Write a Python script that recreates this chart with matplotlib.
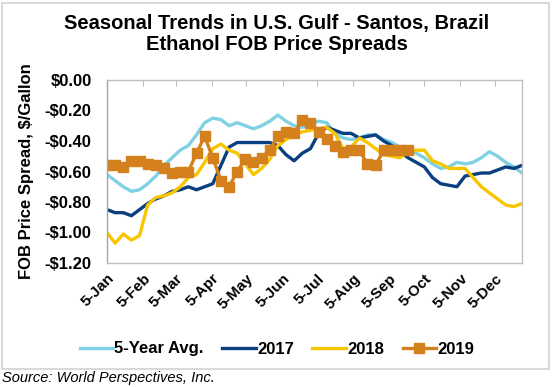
import datetime as dt

import matplotlib
matplotlib.use("Agg")
import matplotlib.dates as mdates
import matplotlib.pyplot as plt
from matplotlib.patches import Rectangle

plt.rcParams['font.family'] = ['Liberation Sans', 'DejaVu Sans']

# weekly observations starting 5-Jan
avg5 = [-0.62, -0.66, -0.70, -0.73, -0.72, -0.68, -0.63, -0.56, -0.51, -0.46,
        -0.43, -0.36, -0.28, -0.25, -0.26, -0.30, -0.28, -0.30, -0.32, -0.30,
        -0.27, -0.23, -0.27, -0.30, -0.31, -0.29, -0.27, -0.28, -0.35, -0.38,
        -0.39, -0.38, -0.36, -0.36, -0.39, -0.41, -0.44, -0.46, -0.48, -0.51,
        -0.55, -0.58, -0.57, -0.54, -0.55, -0.54, -0.51, -0.47, -0.50, -0.54,
        -0.57, -0.61]
y2017 = [-0.85, -0.87, -0.87, -0.89, -0.85, -0.81, -0.78, -0.76, -0.73, -0.72,
         -0.70, -0.72, -0.70, -0.68, -0.56, -0.44, -0.41, -0.41, -0.41, -0.41,
         -0.41, -0.43, -0.49, -0.53, -0.48, -0.45, -0.35, -0.31, -0.33, -0.35,
         -0.35, -0.38, -0.37, -0.36, -0.40, -0.43, -0.47, -0.51, -0.54, -0.57,
         -0.64, -0.68, -0.69, -0.70, -0.63, -0.62, -0.61, -0.61, -0.59, -0.57,
         -0.58, -0.56]
y2018 = [-1.00, -1.07, -1.01, -1.05, -1.02, -0.82, -0.77, -0.76, -0.74, -0.70,
         -0.64, -0.62, -0.54, -0.45, -0.42, -0.46, -0.48, -0.55, -0.62, -0.58,
         -0.52, -0.43, -0.39, -0.36, -0.34, -0.33, -0.32, -0.31, -0.35, -0.45,
         -0.44, -0.38, -0.41, -0.45, -0.49, -0.50, -0.51, -0.47, -0.46, -0.46,
         -0.53, -0.55, -0.58, -0.58, -0.58, -0.64, -0.70, -0.74, -0.78, -0.82,
         -0.83, -0.81]
y2019 = [-0.56, -0.56, -0.57, -0.53, -0.53, -0.55, -0.56, -0.58, -0.61, -0.60,
         -0.60, -0.48, -0.37, -0.51, -0.66, -0.70, -0.60, -0.52, -0.54, -0.51,
         -0.46, -0.37, -0.34, -0.35, -0.26, -0.28, -0.34, -0.39, -0.43, -0.47,
         -0.46, -0.46, -0.55, -0.56, -0.46, -0.46, -0.46, -0.46]

start = dt.date(2019, 1, 5)
weeks = [start + dt.timedelta(days=7 * i) for i in range(len(avg5))]
weeks19 = weeks[:len(y2019)]
month_ticks = [dt.date(2019, m, 5) for m in range(1, 13)]

fig = plt.figure(figsize=(5.54, 3.87), dpi=100)
ax = fig.add_axes([107 / 554, 1 - 263 / 387, 415 / 554, 183 / 387])

ax.plot(weeks, avg5, color='#7FD1E3', lw=2.4, label='5-Year Avg.')
ax.plot(weeks, y2017, color='#0A3F80', lw=2.4, label='2017')
ax.plot(weeks, y2018, color='#F7C600', lw=2.4, label='2018')
ax.plot(weeks19, y2019, color='#D4801C', lw=2.4, marker='s', markersize=6.5,
        label='2019')

ax.set_ylim(-1.2, 0)
ax.set_yticks([0, -0.2, -0.4, -0.6, -0.8, -1.0, -1.2])
ax.set_yticklabels(['$0.00', '-$0.20', '-$0.40', '-$0.60', '-$0.80',
                    '-$1.00', '-$1.20'], fontsize=12, fontweight='bold')
ax.set_xlim(dt.date(2019, 1, 5), dt.date(2019, 12, 28))
ax.set_xticks(month_ticks)
ax.xaxis.set_major_formatter(mdates.DateFormatter('%-d-%b'))
for lab in ax.get_xticklabels():
    lab.set_rotation(45)
    lab.set_ha('right')
    lab.set_rotation_mode('anchor')
    lab.set_fontsize(11)
    lab.set_fontweight('bold')

ax.tick_params(axis='x', bottom=False, top=True, direction='in', length=4,
               color='#BFBFBF', labelbottom=True, pad=6)
ax.tick_params(axis='y', left=False, length=0, pad=11)
for s in ax.spines.values():
    s.set_color('#BFBFBF')
    s.set_linewidth(1)
ax.spines['left'].set_color('#A6A6A6')

ax.set_ylabel('FOB Price Spread, $/Gallon', fontsize=12, fontweight='bold',
              labelpad=8)

fig.text(0.5, 1 - 24 / 387, 'Seasonal Trends in U.S. Gulf - Santos, Brazil',
         ha='center', va='center', fontsize=14.5, fontweight='bold')
fig.text(0.5, 1 - 45 / 387, 'Ethanol FOB Price Spreads',
         ha='center', va='center', fontsize=14.5, fontweight='bold')

fig.legend(loc='center', bbox_to_anchor=(0.5, 1 - 349 / 387), ncol=4,
           frameon=False, prop={'weight': 'bold', 'size': 12},
           handlelength=2.0, handletextpad=0.1, columnspacing=1.1)

fig.patches.append(Rectangle((2 / 554, 1 - 369 / 387), 547 / 554, 366 / 387,
                             transform=fig.transFigure, fill=False,
                             edgecolor='#D9D9D9', lw=1.5))
fig.text(2 / 554, 1 - 378 / 387, 'Source: World Perspectives, Inc.',
         fontsize=10.5, style='italic', ha='left', va='center')

fig.savefig('out.png', dpi=100)
